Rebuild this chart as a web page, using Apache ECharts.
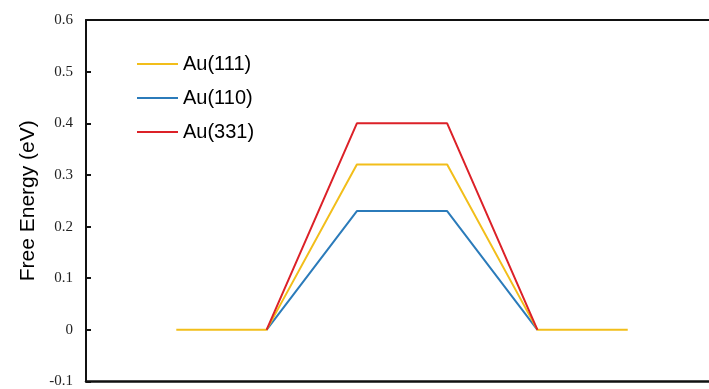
<!DOCTYPE html>
<html>
<head>
<meta charset="utf-8">
<script src="https://cdn.jsdelivr.net/npm/echarts@6/dist/echarts.min.js"></script>
<style>html,body{margin:0;padding:0;background:#fff;overflow:hidden;}#c{width:709px;height:389px;}</style>
</head>
<body>
<div id="c"></div>
<script>
var steps = [0, 1, 2, 3, 4, 5];
var au111 = [0, 0, 0.32, 0.32, 0, 0];
var au110 = [null, 0, 0.23, 0.23, 0, null];
var au331 = [null, 0, 0.40, 0.40, 0, null];
var yTicks = [-0.1, 0, 0.1, 0.2, 0.3, 0.4, 0.5, 0.6];

function pairs(v){ return steps.map(function(s,i){ return [s, v[i]]; }); }

var chart = echarts.init(document.getElementById('c'));
chart.setOption({
  animation: false,
  grid: {left: 86, top: 20, width: 630, height: 366, show: false, containLabel: false},
  legend: {
    orient: 'vertical', left: 137, top: 53, itemWidth: 41, itemHeight: 2, itemGap: 12, padding: 0,
    icon: 'rect',
    textStyle: {fontFamily: 'Liberation Sans, Arial, sans-serif', fontSize: 20, color: '#000', lineHeight: 22},
    data: ['Au(111)', 'Au(110)', 'Au(331)']
  },
  xAxis: [{
    type: 'value', min: -1, max: 5.9, position: 'bottom',
    axisLine: {show: true, onZero: false, lineStyle: {color: '#111', width: 2.5}},
    axisTick: {show: false}, axisLabel: {show: false}, splitLine: {show: false}
  }, {
    type: 'value', min: -1, max: 5.9, position: 'top',
    axisLine: {show: true, onZero: false, lineStyle: {color: '#111', width: 2}},
    axisTick: {show: false}, axisLabel: {show: false}, splitLine: {show: false}
  }],
  yAxis: {
    type: 'value', min: -0.1, max: 0.6, interval: 0.1,
    name: 'Free Energy (eV)', nameLocation: 'middle', nameGap: 47,
    nameTextStyle: {fontFamily: 'Liberation Sans, Arial, sans-serif', fontSize: 21, color: '#000'},
    axisLine: {show: true, onZero: false, lineStyle: {color: '#111', width: 2}},
    axisTick: {show: true, inside: true, length: 5, lineStyle: {color: '#111', width: 2}},
    axisLabel: {margin: 13, fontFamily: 'Liberation Serif, Times New Roman, serif', fontSize: 15, color: '#222',
      formatter: function(v){ var r = Math.round(v*10)/10; return r === 0 ? '0' : String(r); }},
    splitLine: {show: false}
  },
  series: [
    {name: 'Au(110)', type: 'line', data: pairs(au110), showSymbol: false, symbol: 'none', lineStyle: {color: '#2B7BBA', width: 2}, itemStyle: {color: '#2B7BBA'}, z: 2},
    {name: 'Au(111)', type: 'line', data: pairs(au111), showSymbol: false, symbol: 'none', lineStyle: {color: '#F2BE1A', width: 2}, itemStyle: {color: '#F2BE1A'}, z: 3},
    {name: 'Au(331)', type: 'line', data: pairs(au331), showSymbol: false, symbol: 'none', lineStyle: {color: '#DC2128', width: 2}, itemStyle: {color: '#DC2128'}, z: 4}
  ]
});
</script>
</body>
</html>
